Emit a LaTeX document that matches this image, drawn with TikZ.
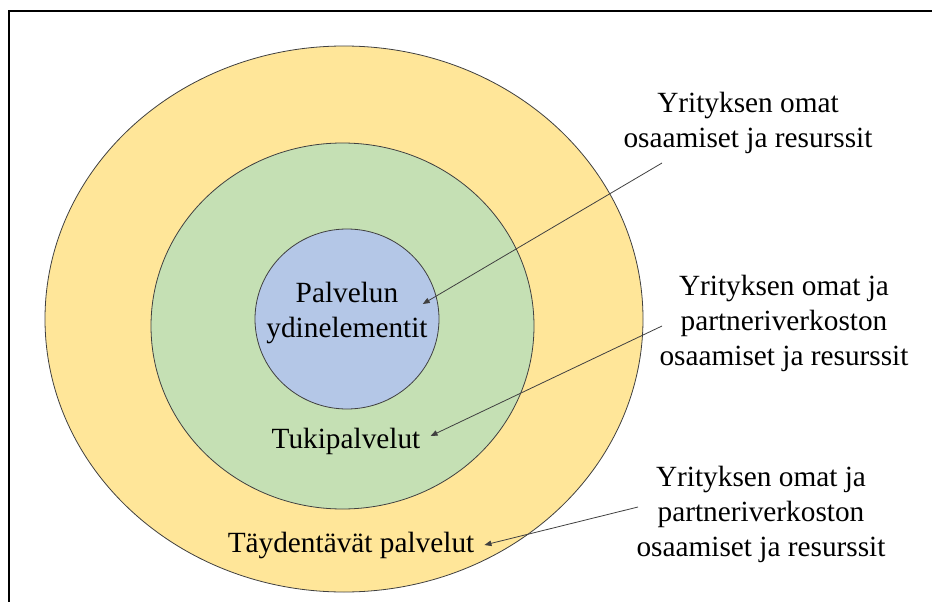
\documentclass[tikz,border=0pt]{standalone}
\usepackage{fontspec}
\setmainfont{Liberation Serif}
\usepackage{tikz}
\usetikzlibrary{
    arrows.meta,
    shapes.geometric
}
\tikzset{
  layer/.style  = {draw=black!75, ellipse, line width=0.8pt, inner sep=0pt},
  lbl/.style    = {align=center, inner sep=2pt},
  arr/.style    = {-{Triangle[length=7pt, width=5.5pt]}, line width=0.8pt, ArrowGray}
}
\definecolor{LayerGold}{HTML}{FFE699}
\definecolor{LayerGreen}{HTML}{C5E0B4}
\definecolor{LayerBlue}{HTML}{B4C7E7}
\definecolor{ArrowGray}{RGB}{64,64,64}

\begin{document}
\begin{tikzpicture}[x=1pt, y=-1pt, every node/.style={font=\fontsize{29.3}{35}\selectfont}]
\useasboundingbox (0,0) rectangle (932,602);
\draw[line width=2pt] (9,11) rectangle (950,620);
% layers
\node[layer, fill=LayerGold, minimum width=598pt, minimum height=546pt] (outer) at (344,319) {};
\node[layer, fill=LayerGreen, minimum width=383pt, minimum height=366pt] (middle) at (342.5,326) {};
\node[layer, fill=LayerBlue, minimum width=184pt, minimum height=180pt] (core) at (347,319) {};
% layer labels
\node[lbl] (corelbl) at (347,313) {Palvelun\\ydinelementit};
\node[lbl] (tuki) at (346,441) {Tukipalvelut};
\node[lbl] (taydent) at (351,545) {Täydentävät palvelut};
% notes
\node[lbl] (note1) at (748,123) {Yrityksen omat\\osaamiset ja resurssit};
\node[lbl] (note2) at (784,323) {Yrityksen omat ja\\partneriverkoston\\osaamiset ja resurssit};
\node[lbl] (note3) at (761,514) {Yrityksen omat ja\\partneriverkoston\\osaamiset ja resurssit};
\coordinate (s1) at (662,163);
\coordinate (s2) at (662,326);
\coordinate (s3) at (638,507);
\draw[arr] (s1) -- ([xshift=-7pt, yshift=9pt]corelbl.east);
\draw[arr] (s2) -- ([xshift=8pt, yshift=5pt]tuki.east);
\draw[arr] (s3) -- ([xshift=8pt]taydent.east);
\end{tikzpicture}
\end{document}
